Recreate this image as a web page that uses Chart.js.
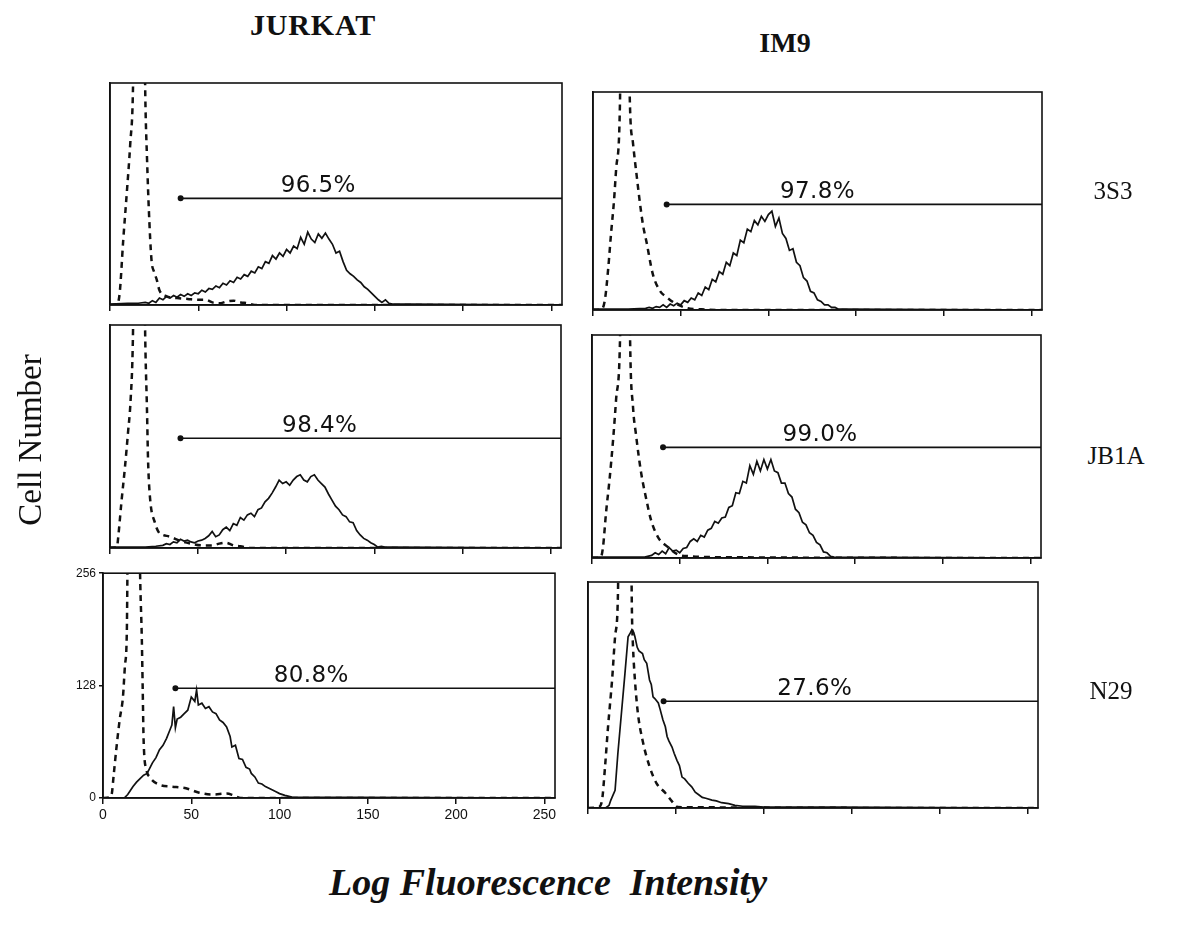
<!DOCTYPE html>
<html><head><meta charset="utf-8">
<script src="https://cdn.jsdelivr.net/npm/chart.js@4/dist/chart.umd.min.js"></script>
<style>
html,body{margin:0;padding:0;background:#fff;}
body{width:1201px;height:938px;position:relative;overflow:hidden;}
.panel{position:absolute;}
.txt{position:absolute;white-space:pre;color:#111;transform:translate(-50%,-50%);line-height:1;}
.col{font-family:"Liberation Serif","Times New Roman",serif;font-weight:bold;font-size:28px;}
.wide{font-size:30px;letter-spacing:0.8px;}
.row{font-family:"Liberation Serif","Times New Roman",serif;font-size:25px;}
.ylab{font-family:"Liberation Serif","Times New Roman",serif;font-size:33px;transform:translate(-50%,-50%) rotate(-90deg);}
.xlab{font-family:"Liberation Serif","Times New Roman",serif;font-weight:bold;font-style:italic;font-size:38px;}
.pct{font-family:"DejaVu Sans",sans-serif;font-size:23px;letter-spacing:0.4px;}
</style>
</head><body>
<script>
// ---------------- DATA ----------------
const xTicks = [0, 50, 100, 150, 200, 250];
const yTicks = [0, 128, 256];
const columnNames = ["JURKAT", "IM9"];
const rowNames = ["3S3", "JB1A", "N29"];
const percentLabels = ["96.5%", "97.8%", "98.4%", "99.0%", "80.8%", "27.6%"];
const gateStart = [40, 42, 40, 40.5, 41, 43];
const gateLevel = [123, 124, 126, 127, 125, 121];
const labelCenterX = [118, 128, 119, 130, 118, 129];

// JURKAT / 3S3
const jurkat3s3CtrlX = [0, 4, 5.5, 7.5, 9.5, 11.5, 13, 14, 19, 20, 21, 22, 23.5, 25, 26.5, 28, 32, 38, 44, 50, 54, 58, 62, 66, 70, 74, 78, 82, 256];
const jurkat3s3CtrlY = [0, 1, 14, 75, 129, 187, 248, 400, 400, 240, 167, 110, 52, 38, 29, 17, 10, 8, 7, 6, 6, 3, 2, 4, 5, 3, 2, 0, 0];
const jurkat3s3X = [0,10,16,20,22,24,26,28,30,32,34,36,38,40,42,44,46,48,50,52,54,56,58,60,62,64,66,68,70,72,74,76,78,80,82,84,86,88,90,92,94,96,98,100,102,104,106,108,110,112,114,116,118,120,122,124,126,128,130,132,134,136,138,140,142,144,146,148,150,152,154,156,158,160,170,256];
const jurkat3s3Y = [1,2,2,3,2,5,3,8,6,10,8,11,9,12,10,13,11,14,13,17,15,19,18,22,20,25,23,28,26,32,30,35,33,39,37,44,42,50,48,57,53,60,56,64,60,68,65,78,70,84,76,72,82,77,83,76,70,60,62,50,40,36,33,29,26,21,18,14,10,6,3,6,2,1,1,0];

// IM9 / 3S3
const im93s3CtrlX = [0, 5, 6.8, 8.6, 10.3, 12, 13.3, 15.4, 16, 20, 21, 22.8, 25, 26.8, 28.5, 30.6, 34, 38, 42, 46.7, 54, 60, 70, 256];
const im93s3CtrlY = [0, 1, 12, 47, 90, 129, 168, 246, 400, 400, 246, 196, 156, 125, 100, 79, 43, 23, 15, 8, 2, 1, 0, 0];
const im93s3X = [0,20,30,32,34,36,38,40,42,44,46,48,50,52,54,56,58,60,62,64,66,68,70,72,74,76,78,80,82,84,86,88,90,92,94,96,98,100,102,104,106,108,110,112,114,116,118,120,122,124,126,128,130,132,134,136,138,140,142,256];
const im93s3Y = [1,1,2,3,2,4,3,6,3,7,5,8,6,11,9,14,12,20,17,27,24,36,33,45,42,56,52,67,64,82,79,95,92,105,100,110,104,112,116,98,108,90,84,70,72,56,52,38,34,22,20,12,10,6,6,3,3,1,1,0];

// JURKAT / JB1A
const jurkatJb1aCtrlX = [0, 4, 4.5, 6.6, 8.5, 10.2, 11.7, 13, 14, 19, 20, 21, 21.6, 22.7, 25.5, 28, 30, 34, 40, 46, 52, 58, 62, 66, 70, 74, 80, 256];
const jurkatJb1aCtrlY = [0, 1, 9, 55, 93, 132, 170, 241, 400, 400, 241, 158, 101, 58, 29, 17, 15, 13, 8, 5, 3, 3, 5, 6, 3, 2, 0, 0];
const jurkatJb1aX = [0,20,26,30,32,34,36,38,40,42,44,46,48,50,52,54,56,58,60,62,64,66,68,70,72,74,76,78,80,82,84,86,88,90,92,94,96,98,100,102,104,106,108,110,112,114,116,118,120,122,124,126,128,130,132,134,136,138,140,142,144,146,148,150,152,154,156,158,160,256];
const jurkatJb1aY = [1,1,2,3,5,4,7,6,10,8,9,7,6,8,9,11,14,19,13,15,21,24,20,28,26,35,32,38,40,36,44,46,53,57,63,70,78,74,76,72,78,82,84,78,76,82,84,78,74,70,62,55,48,44,38,36,30,29,20,15,11,9,6,4,1,2,1,1,1,0];

// IM9 / JB1A
const im9Jb1aCtrlX = [0, 5, 6.3, 8, 10, 12, 13.7, 16, 17, 21, 21.7, 23.4, 25, 28, 31, 33.6, 37.6, 43, 49, 56, 70, 256];
const im9Jb1aCtrlY = [0, 1, 13, 52, 90, 135, 181, 253, 400, 400, 253, 173, 143, 98, 67, 44, 24, 13, 4, 2, 1, 0];
const im9Jb1aX = [0,30,34,36,38,40,42,44,46,48,50,52,54,56,58,60,62,64,66,68,70,72,74,76,78,80,82,84,86,88,90,92,94,96,98,100,102,104,106,108,110,112,114,116,118,120,122,124,126,128,130,132,134,136,138,256];
const im9Jb1aY = [1,1,3,6,4,8,5,12,8,9,6,11,12,19,22,19,26,24,32,34,42,40,46,47,58,60,75,74,88,86,106,96,111,100,113,102,113,100,98,86,86,74,70,56,52,41,38,29,26,18,15,7,6,2,1,0];

// JURKAT / N29
const jurkatN29CtrlX = [0, 4, 5, 6, 7.5, 9.5, 11.3, 12.4, 13.5, 14.5, 20, 21, 22, 22.5, 23, 24.6, 26.4, 32, 39, 47, 54.5, 62, 70, 74, 78, 256];
const jurkatN29CtrlY = [0, 1, 5, 25, 55, 90, 115, 150, 190, 400, 400, 256, 180, 123, 66, 32, 24, 15, 13, 11, 6, 4, 5, 3, 0, 0];
const jurkatN29X = [0,12,14,17,19,21,23,25,27,28,30,32,34,36,38,39,40,41,42,44,46,48,50,52,53,54,56,58,60,62,64,66,68,70,72,73,75,77,79,81,83,84,86,88,90,92,94,96,98,100,103,107,256];
const jurkatN29Y = [0,0,4,13,18,22,26,28,36,40,46,55,60,68,78,83,104,80,90,92,96,100,115,110,123,106,108,102,104,98,96,89,86,81,70,58,60,45,44,35,33,28,24,17,16,13,11,9,7,5,3,1,0];

// IM9 / N29
const im9N29CtrlX = [0, 6, 8, 9.7, 11.4, 13.7, 15.4, 17, 18, 24, 25, 25.6, 26.7, 28.4, 31, 35, 39, 44, 48, 51, 256];
const im9N29CtrlY = [0, 1, 9, 47, 92, 145, 194, 239, 400, 400, 221, 183, 145, 107, 77, 47, 28, 17, 7, 1, 0];
const im9N29X = [0,10,12,13,15.4,17,19,21,22.8,24,25,26,26.7,28,29,31,32,33.4,35,36,37,38,40,41,42.6,44,45,46,47.8,49,50.6,52,53.5,55,57,59,61,63,65,67,70.5,73,76,80,83.6,88,95,100,120,140,256];
const im9N29Y = [0,0,3,9,20,62,107,152,194,198,202,199,194,182,178,175,168,164,145,140,126,124,119,112,100,92,81,76,69,62,54,48,35,33,28,24,18,15,12,11,9,8,6,5,3,2,2,1,1,1,0];

// ---------------- LAYOUT ----------------
const panelSeries = [
  [jurkat3s3CtrlX, jurkat3s3CtrlY, jurkat3s3X, jurkat3s3Y],
  [im93s3CtrlX, im93s3CtrlY, im93s3X, im93s3Y],
  [jurkatJb1aCtrlX, jurkatJb1aCtrlY, jurkatJb1aX, jurkatJb1aY],
  [im9Jb1aCtrlX, im9Jb1aCtrlY, im9Jb1aX, im9Jb1aY],
  [jurkatN29CtrlX, jurkatN29CtrlY, jurkatN29X, jurkatN29Y],
  [im9N29CtrlX, im9N29CtrlY, im9N29X, im9N29Y]
];
const areas = [
  {l:110, t:83,  w:452, h:222},
  {l:593, t:92,  w:449, h:218},
  {l:110, t:325, w:451, h:223},
  {l:592, t:335, w:449, h:223},
  {l:103, t:573, w:452, h:225},
  {l:588, t:582, w:450, h:226}
];
const PL = 45, PT = 10, PR = 10, PB = 40;
const INK = '#111';

function addText(cls, text, x, y) {
  const d = document.createElement('div');
  d.className = 'txt ' + cls;
  d.textContent = text;
  d.style.left = x + 'px';
  d.style.top = y + 'px';
  document.body.appendChild(d);
  return d;
}

const framePlugin = {
  id: 'frame',
  afterDatasetsDraw(chart) {
    const {ctx, chartArea: a} = chart;
    ctx.save();
    ctx.strokeStyle = INK;
    ctx.lineWidth = 1.6;
    ctx.strokeRect(a.left, a.top, a.right - a.left, a.bottom - a.top);
    ctx.restore();
  }
};

const pts = (xs, ys) => xs.map((x, i) => ({x: x, y: ys[i]}));

areas.forEach((a, i) => {
  const showLabels = (i === 4);
  const box = document.createElement('div');
  box.className = 'panel';
  const left = a.l - PL, top = a.t - PT;
  box.style.left = left + 'px';
  box.style.top = top + 'px';
  const cv = document.createElement('canvas');
  cv.width = a.w + PL + PR;
  cv.height = a.h + PT + PB;
  box.appendChild(cv);
  document.body.appendChild(box);
  const s = panelSeries[i];
  const chart = new Chart(cv, {
    type: 'line',
    data: {
      datasets: [
        { data: pts(s[0], s[1]), borderColor: INK, borderWidth: 2.5, borderDash: [6, 5],
          pointRadius: 0, fill: false, cubicInterpolationMode: 'monotone' },
        { data: pts(s[2], s[3]), borderColor: INK, borderWidth: 1.7,
          pointRadius: 0, fill: false, tension: 0 },
        { data: [{x: gateStart[i], y: gateLevel[i]}, {x: 256, y: gateLevel[i]}],
          borderColor: INK, borderWidth: 1.6, pointRadius: [2.2, 0],
          pointBackgroundColor: INK, pointBorderColor: INK, fill: false }
      ]
    },
    options: {
      responsive: false, animation: false, events: [],
      layout: {padding: {top: PT, right: PR, left: 0, bottom: 0}},
      plugins: {legend: {display: false}, tooltip: {enabled: false}},
      scales: {
        x: {
          type: 'linear', min: 0, max: 256,
          afterBuildTicks: sc => { sc.ticks = xTicks.map(v => ({value: v})); },
          afterFit: sc => { sc.height = PB; },
          grid: {display: true, drawOnChartArea: false, drawTicks: true, tickLength: 6, color: INK, lineWidth: 1.5},
          border: {display: true, color: INK, width: 1.6},
          ticks: {display: showLabels, autoSkip: false, maxRotation: 0, padding: 3, color: INK,
                  font: {family: 'Liberation Sans, Arial, sans-serif', size: 14}}
        },
        y: {
          type: 'linear', min: 0, max: 256,
          afterBuildTicks: sc => { sc.ticks = yTicks.map(v => ({value: v})); },
          afterFit: sc => { sc.width = PL; },
          grid: {display: showLabels, drawOnChartArea: false, drawTicks: true, tickLength: 4, color: INK, lineWidth: 1.5},
          border: {display: true, color: INK, width: 1.6},
          ticks: {display: showLabels, autoSkip: false, padding: 3, color: INK,
                  font: {family: 'Liberation Sans, Arial, sans-serif', size: 12}}
        }
      }
    },
    plugins: [framePlugin]
  });
  const px = chart.scales.x.getPixelForValue(labelCenterX[i]) + left;
  const py = chart.scales.y.getPixelForValue(gateLevel[i]) + top - 14;
  addText('pct', percentLabels[i], px, py);
});

addText('col wide', columnNames[0], 313, 25);
addText('col', columnNames[1], 785, 43);
addText('row', rowNames[0], 1113, 190);
addText('row', rowNames[1], 1116, 455);
addText('row', rowNames[2], 1111, 690);
addText('ylab', 'Cell Number', 30, 440);
addText('xlab', 'Log Fluorescence  Intensity', 548, 882);
</script>
</body></html>
